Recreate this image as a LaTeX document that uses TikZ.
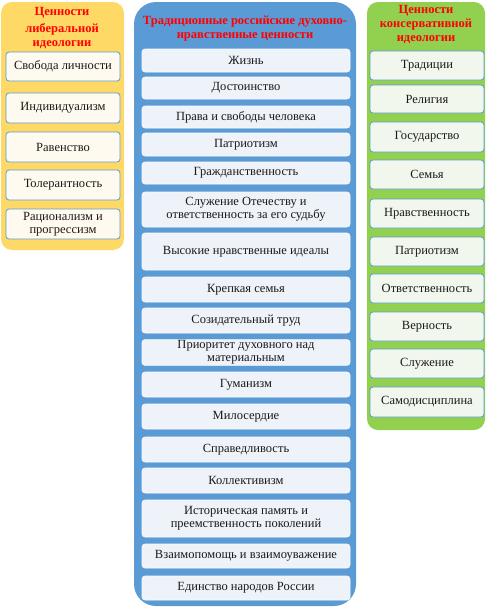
\documentclass[tikz,border=0pt]{standalone}
\usepackage{fontspec}
\setmainfont{Liberation Serif}
\definecolor{pyellow}{HTML}{FFD966}
\definecolor{pblue}{HTML}{5B9BD5}
\definecolor{pgreen}{HTML}{92D050}
\definecolor{fcream}{HTML}{FFFAF0}
\definecolor{flblue}{HTML}{EEF3FA}
\definecolor{flgreen}{HTML}{F2F7EE}
\definecolor{ttl}{HTML}{FF0000}
\definecolor{txt}{HTML}{1A1A1A}
\tikzset{
  panel/.style={draw=none},
  ttext/.style={text=ttl, font=\fontsize{12.5}{14}\selectfont\bfseries, align=center, inner sep=0pt},
  basebox/.style={rectangle, rounded corners=3pt, inner sep=1pt, align=center, text=txt,
    font=\fontsize{12.5}{13}\selectfont},
  lbox/.style={basebox, draw=pblue, line width=0.8pt, fill=fcream, minimum width=114pt},
  mbox/.style={basebox, draw=white!70!flblue, line width=0.6pt, fill=flblue, minimum width=208pt},
  rbox/.style={basebox, draw=pblue, line width=0.8pt, fill=flgreen, minimum width=114pt},
}
\begin{document}
\begin{tikzpicture}[x=1pt,y=-1pt]
\useasboundingbox (0,0) rectangle (487,616);
% panels
\fill[pyellow, rounded corners=11pt] (1,2) rectangle (124,250);
\fill[pblue, rounded corners=22pt] (134,2) rectangle (356,606);
\fill[pgreen, rounded corners=11pt] (367,2) rectangle (485,430);
% titles
\node[ttext] (tl) at (62,28) {Ценности\\[3pt]либеральной\\идеологии};
\node[ttext] (tm) at (245,28.5) {Традиционные российские духовно-\\нравственные ценности};
\node[ttext] (tr) at (426,24.5) {Ценности\\консервативной\\идеологии};
% left boxes
\node[lbox, minimum height=29pt] (l1) at (63,66.5) {Свобода личности};
\node[lbox, minimum height=30pt] (l2) at (63,108) {Индивидуализм};
\node[lbox, minimum height=30pt] (l3) at (63,147) {Равенство};
\node[lbox, minimum height=30pt] (l4) at (63,185) {Толерантность};
\node[lbox, minimum height=30pt] (l5) at (63,224) {Рационализм и\\прогрессизм};
% middle boxes
\node[mbox, minimum height=23pt] (m1) at (246,60.5) {Жизнь};
\node[mbox, minimum height=22pt] (m2) at (246,88) {Достоинство};
\node[mbox, minimum height=22pt] (m3) at (246,117) {Права и свободы человека};
\node[mbox, minimum height=23pt] (m4) at (246,144.5) {Патриотизм};
\node[mbox, minimum height=22pt] (m5) at (246,173) {Гражданственность};
\node[mbox, minimum height=35pt] (m6) at (246,209.5) {Служение Отечеству и\\ответственность за его судьбу};
\node[mbox, minimum height=37pt] (m7) at (246,251.5) {Высокие нравственные идеалы};
\node[mbox, minimum height=25pt] (m8) at (246,289.5) {Крепкая семья};
\node[mbox, minimum height=25pt] (m9) at (246,320.5) {Созидательный труд};
\node[mbox, minimum height=25pt] (m10) at (246,352.5) {Приоритет духовного над\\материальным};
\node[mbox, minimum height=25pt] (m11) at (246,384.5) {Гуманизм};
\node[mbox, minimum height=25pt] (m12) at (246,416.5) {Милосердие};
\node[mbox, minimum height=25pt] (m13) at (246,449.5) {Справедливость};
\node[mbox, minimum height=25pt] (m14) at (246,480.5) {Коллективизм};
\node[mbox, minimum height=37pt] (m15) at (246,518.5) {Историческая память и\\преемственность поколений};
\node[mbox, minimum height=24pt] (m16) at (246,556) {Взаимопомощь и взаимоуважение};
\node[mbox, minimum height=24pt] (m17) at (246,588) {Единство народов России};
% right boxes
\node[rbox, minimum height=29pt] (r1) at (427,65.5) {Традиции};
\node[rbox, minimum height=28pt] (r2) at (427,99) {Религия};
\node[rbox, minimum height=30pt] (r3) at (427,137) {Государство};
\node[rbox, minimum height=29pt] (r4) at (427,174.5) {Семья};
\node[rbox, minimum height=29pt] (r5) at (427,213.5) {Нравственность};
\node[rbox, minimum height=29pt] (r6) at (427,251.5) {Патриотизм};
\node[rbox, minimum height=29pt] (r7) at (427,288.5) {Ответственность};
\node[rbox, minimum height=29pt] (r8) at (427,326.5) {Верность};
\node[rbox, minimum height=29pt] (r9) at (427,363.5) {Служение};
\node[rbox, minimum height=30pt] (r10) at (427,402) {Самодисциплина};
\end{tikzpicture}
\end{document}
